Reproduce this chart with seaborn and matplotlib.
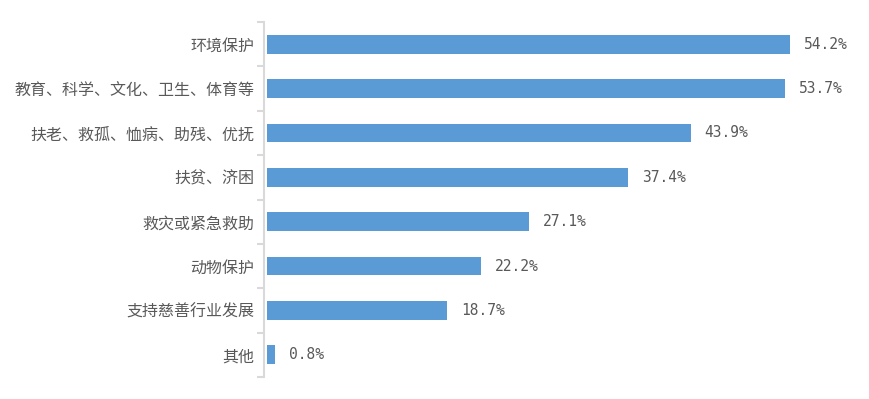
import numpy as np
import pandas as pd
import matplotlib
matplotlib.use("Agg")
import matplotlib.pyplot as plt
import seaborn as sns

categories = ["环境保护", "教育、科学、文化、卫生、体育等", "扶老、救孤、恤病、助残、优抚",
              "扶贫、济困", "救灾或紧急救助", "动物保护", "支持慈善行业发展", "其他"]
values = [54.2, 53.7, 43.9, 37.4, 27.1, 22.2, 18.7, 0.8]
value_labels = ["54.2%", "53.7%", "43.9%", "37.4%", "27.1%", "22.2%", "18.7%", "0.8%"]

df = pd.DataFrame({"category": categories, "value": values})

sns.set_style("white")
plt.rcParams['font.family'] = ['Noto Sans CJK SC', 'DejaVu Sans']

fig = plt.figure(figsize=(8.69, 3.99), dpi=100)
ax = fig.add_axes([267 / 869, 22 / 399, 579 / 869, 355 / 399])

sns.barplot(data=df, x="value", y="category", orient="h", color="#5B9BD5",
            saturation=1, width=0.42, linewidth=0, ax=ax)

ax.set_xlim(0, 60)
ax.set_ylim(7.5, -0.5)
ax.set_xlabel("")
ax.set_ylabel("")
ax.set_xticks([])

for s in ["top", "right", "bottom"]:
    ax.spines[s].set_visible(False)
ax.spines["left"].set_color("#D9D9D9")
ax.spines["left"].set_linewidth(1.5)
ax.spines["left"].set_position(("outward", 2))

# ticks between categories, labels centred on the bars
ax.set_yticks(np.arange(-0.5, len(categories), 1), minor=True)
ax.tick_params(axis="y", which="minor", length=5, width=1.5, color="#D9D9D9", left=True)
ax.tick_params(axis="y", which="major", length=0, pad=7, labelsize=11.5, labelcolor="#595959")

ax.bar_label(ax.containers[0], labels=value_labels, padding=10,
             fontsize=10.5, color="#595959", family="DejaVu Sans Mono")

fig.savefig("out.png", dpi=100)
